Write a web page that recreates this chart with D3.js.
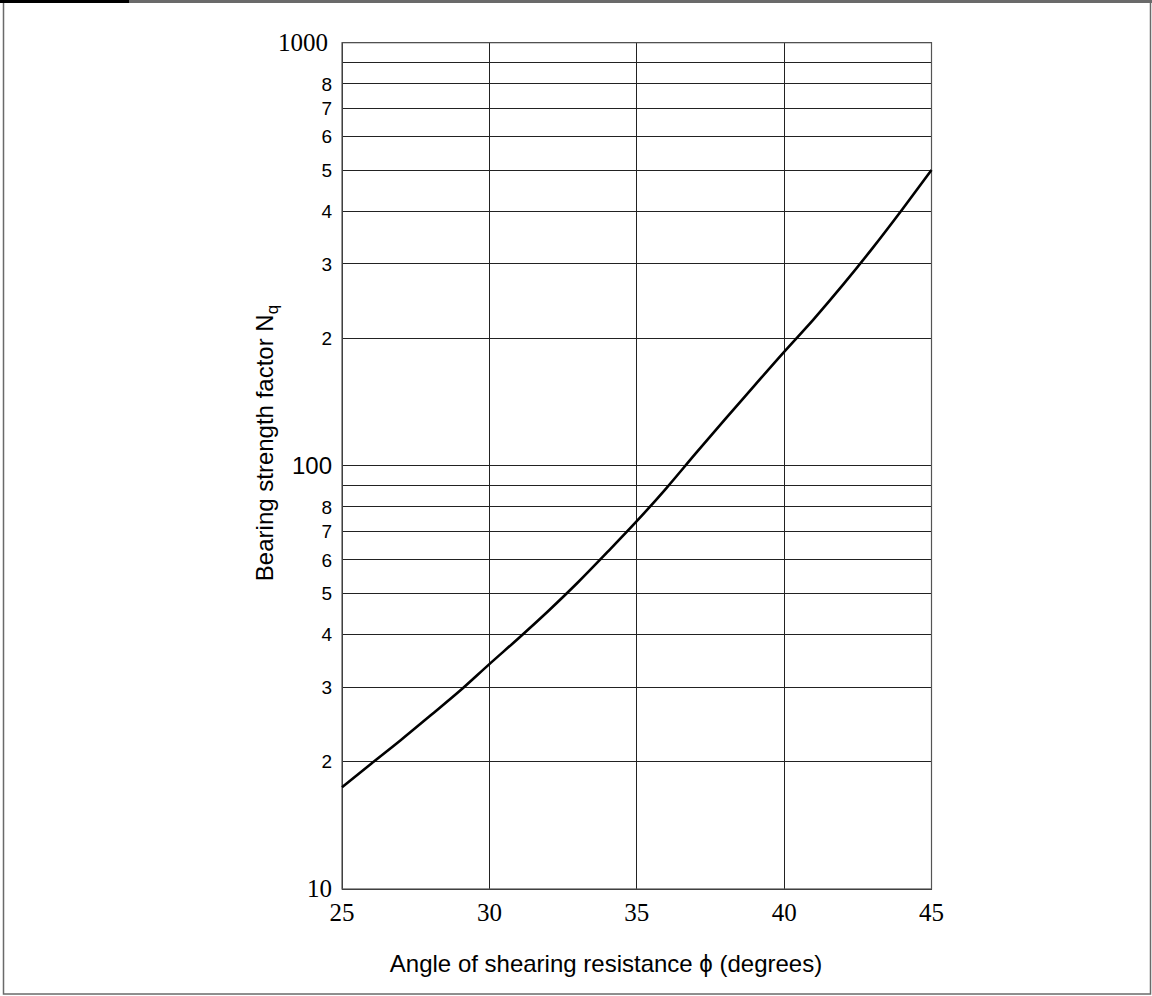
<!DOCTYPE html>
<html>
<head>
    <title>Bearing strength factor Nq</title>
    <script src="https://d3js.org/d3.v7.min.js"></script>
    <style>
        body {
            margin: 0;
            padding: 0;
            background: #fff;
        }
        .sans { font-family: "Liberation Sans", Arial, sans-serif; }
        .serif { font-family: "Liberation Serif", "Times New Roman", serif; }
        .grid line { stroke: #222; stroke-width: 1px; shape-rendering: crispEdges; }
        .curve { fill: none; stroke: #000; stroke-width: 2.6px; }
    </style>
</head>
<body>
    <div id="chart"></div>
    <script>
        // angle of shearing resistance (degrees) and Nq
        const phi = [25, 26, 27, 28, 29, 30, 31, 32, 33, 34, 35, 36, 37, 38, 39, 40, 41, 42, 43, 44, 45];
        const nq = [17.4, 19.8, 22.5, 25.7, 29.4, 34.0, 39.2, 45.4, 53.0, 62.5, 74.0, 88.5, 107, 129, 155, 186, 222, 268, 327, 403, 500];

        const xTicks = [25, 30, 35, 40, 45];
        const yMajor = [10, 100, 1000];
        const yMinor = [20, 30, 40, 50, 60, 70, 80, 90, 200, 300, 400, 500, 600, 700, 800, 900];

        const width = 1152;
        const height = 996;
        const margin = { top: 42.7, right: 220.5, bottom: 107, left: 342 };
        const w = width - margin.left - margin.right;
        const h = height - margin.top - margin.bottom;

        const svg = d3.select("#chart")
            .append("svg")
            .attr("width", width)
            .attr("height", height);

        // outer frame
        svg.append("rect")
            .attr("x", 3.5).attr("y", 1.5)
            .attr("width", 1147).attr("height", 992.5)
            .attr("fill", "none")
            .attr("stroke", "#6a6a6a")
            .attr("stroke-width", 1.5);
        svg.append("rect")
            .attr("x", 0).attr("y", 0)
            .attr("width", width).attr("height", 3)
            .attr("fill", "#6a6a6a");
        svg.append("rect")
            .attr("x", 0).attr("y", 0)
            .attr("width", 129).attr("height", 3)
            .attr("fill", "#000");

        const g = svg.append("g")
            .attr("transform", `translate(${margin.left},${margin.top})`);

        const x = d3.scaleLinear().domain([25, 45]).range([0, w]);
        const y = d3.scaleLog().domain([10, 1000]).range([h, 0]);

        // vertical grid lines
        g.append("g")
            .attr("class", "grid")
            .selectAll("line")
            .data(xTicks)
            .enter()
            .append("line")
            .attr("x1", d => x(d)).attr("x2", d => x(d))
            .attr("y1", 0).attr("y2", h);

        // horizontal grid lines
        g.append("g")
            .attr("class", "grid")
            .selectAll("line")
            .data(yMajor.concat(yMinor))
            .enter()
            .append("line")
            .attr("x1", 0).attr("x2", w)
            .attr("y1", d => y(d)).attr("y2", d => y(d));

        // x tick labels
        g.append("g")
            .selectAll("text")
            .data(xTicks)
            .enter()
            .append("text")
            .attr("class", "serif")
            .attr("x", d => x(d))
            .attr("y", h + 31.7)
            .attr("text-anchor", "middle")
            .style("font-size", "25px")
            .text(d => d);

        // y major labels (1000 and 10 in serif, 100 in sans)
        g.append("g")
            .selectAll("text")
            .data(yMajor)
            .enter()
            .append("text")
            .attr("class", d => d === 100 ? "sans" : "serif")
            .attr("x", d => d === 1000 ? -14 : -10)
            .attr("y", d => y(d))
            .attr("dy", "0.34em")
            .attr("text-anchor", "end")
            .style("font-size", d => d === 100 ? "24px" : "25px")
            .text(d => d);

        // y minor labels, leading digit only, 9 left blank
        g.append("g")
            .selectAll("text")
            .data(yMinor.filter(d => String(d)[0] !== "9"))
            .enter()
            .append("text")
            .attr("class", "sans")
            .attr("x", -10)
            .attr("y", d => y(d))
            .attr("dy", "0.36em")
            .attr("text-anchor", "end")
            .style("font-size", "19px")
            .text(d => String(d)[0]);

        // plot frame
        g.append("rect")
            .attr("x", 0).attr("y", 0)
            .attr("width", w).attr("height", h)
            .attr("fill", "none")
            .attr("stroke", "#555")
            .attr("stroke-width", 1.2);

        // Nq curve
        const line = d3.line()
            .x((d, i) => x(phi[i]))
            .y(d => y(d))
            .curve(d3.curveMonotoneX);

        g.append("path")
            .datum(nq)
            .attr("class", "curve")
            .attr("d", line);

        // axis titles
        svg.append("text")
            .attr("class", "sans")
            .attr("x", 606)
            .attr("y", 971.5)
            .attr("text-anchor", "middle")
            .style("font-size", "24px")
            .text("Angle of shearing resistance \u03D5 (degrees)");

        const yTitle = svg.append("text")
            .attr("class", "sans")
            .attr("transform", "translate(273,443) rotate(-90)")
            .attr("text-anchor", "middle")
            .style("font-size", "24px");
        yTitle.append("tspan").text("Bearing strength factor N");
        yTitle.append("tspan")
            .attr("dy", 5)
            .style("font-size", "17px")
            .text("q");
    </script>
</body>
</html>
